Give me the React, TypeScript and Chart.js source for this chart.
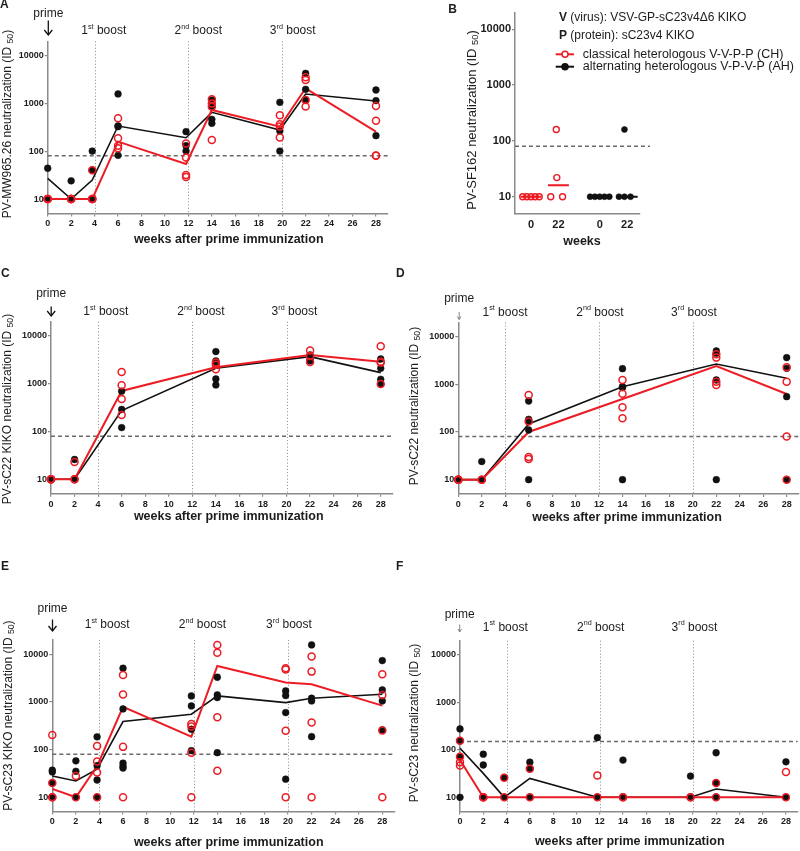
import React, { useEffect, useRef } from "react";
import { Chart, registerables } from "chart.js";

Chart.register(...registerables);

const FONT = '"Liberation Sans", Arial, Helvetica, sans-serif';
const RED = "#ec1c24";
const BLACK = "#111111";
const AXIS = "#8a8a8a";
const TEXT = "#1c1c1c";

// ---------------- shared scales ----------------
const weekTicks = [0, 2, 4, 6, 8, 10, 12, 14, 16, 18, 20, 22, 24, 26, 28];
const titerTicks = [10, 100, 1000, 10000];
const boostWeeks = [4, 12, 20];
const weeksFull = [0, 2, 3.8, 6, 11.8, 14, 19.8, 22, 28];
const weeksSparse = [0, 2, 6, 14, 22, 28];

// ---------------- Panel A: PV-MW965.26 ----------------
const A_CH = [
  [10, 10, 10, 10],
  [10, 10, 10, 10],
  [40, 10, 10, 10],
  [489, 186, 131, 115],
  [146, 74, 32, 29],
  [1220, 1000, 850, 172],
  [565, 366, 330, 195],
  [3520, 3090, 1180, 860],
  [885, 436, 81, 80],
];
const A_AH = [
  [44, 10, 10, 10],
  [24, 10, 10],
  [101, 40, 10],
  [1580, 340, 327, 82],
  [257, 131, 101],
  [1175, 885, 465, 384],
  [1057, 265, 101],
  [4265, 1977, 1177],
  [1914, 1147, 212],
];
const A_CH_GMT = [10, 10, 10, 159, 54, 730, 327, 2075, 257];
const A_AH_GMT = [27, 10, 25, 337, 192, 652, 278, 1578, 1127];

// ---------------- Panel B: PV-SF162 ----------------
const B_groupPos = [1, 2, 3.5, 4.5];
const B_groupLabels = ["0", "22", "0", "22"];
const B_CH_week0 = [10, 10, 10, 10, 10];
const B_CH_week22 = [10, 22, 160, 10];
const B_AH_week0 = [10, 10, 10, 10, 10];
const B_AH_week22 = [10, 160, 10, 10];
const B_CH_median = [10, 16];
const B_AH_median = [10, 10];
const B_jitterCH0 = [-0.3, -0.15, 0, 0.15, 0.3];
const B_jitterCH22 = [-0.28, -0.06, -0.08, 0.15];
const B_jitterAH0 = [-0.35, -0.175, 0, 0.175, 0.35];
const B_jitterAH22 = [-0.3, -0.1, -0.1, 0.12];

// ---------------- Panel C: PV-sC22 KIKO ----------------
const C_CH = [
  [10, 10, 10, 10],
  [23, 10, 10],
  [1770, 930, 480, 222],
  [2770, 2500, 2010],
  [4940, 3800, 2860],
  [6090, 2900, 2770, 990],
];
const C_AH = [
  [10, 10, 10],
  [26, 10],
  [700, 290, 121],
  [4710, 3000, 2800, 1260, 944],
  [4000, 3250, 3000],
  [3300, 2108, 1240, 990],
];
const C_CH_GMT = [10, 10, 707, 2213, 4010, 2904];
const C_AH_GMT = [10, 10, 274, 2108, 3700, 1710];

// ---------------- Panel D: PV-sC22 ----------------
const D_CH = [
  [10, 10, 10, 10],
  [10, 10],
  [598, 165, 30, 27],
  [1233, 637, 329, 194],
  [4260, 3631, 1138, 968],
  [2275, 1138, 80, 10],
];
const D_AH = [
  [10, 10],
  [24, 10],
  [447, 184, 170, 110, 10],
  [2133, 893, 850, 10],
  [5000, 4500, 1233, 10],
  [3631, 2168, 551, 10],
];
const D_CH_GMT = [10, 10, 100, 492, 2427, 627];
const D_AH_GMT = [10, 10, 147, 893, 2672, 1336];

// ---------------- Panel E: PV-sC23 KIKO ----------------
const E_CH = [
  [203, 20, 10, 10],
  [28, 10],
  [119, 56, 33, 10],
  [3683, 1425, 114, 10],
  [345, 304, 86, 10],
  [15700, 10800, 477, 36],
  [5080, 4800, 247, 10],
  [8930, 4320, 368, 10],
  [3800, 1403, 250, 10],
];
const E_AH = [
  [37, 34, 20, 10],
  [58, 35, 10],
  [185, 46, 23, 10],
  [5080, 713, 52, 45, 41],
  [1336, 824, 267, 95],
  [3290, 1403, 1233, 86],
  [1702, 1359, 597, 24],
  [15700, 1194, 1050, 187],
  [7360, 1786, 1050, 259],
];
const E_CH_GMT = [15, 10, 45, 785, 187, 5690, 2546, 2350, 837];
const E_AH_GMT = [28, 22, 39, 387, 551, 1336, 968, 1194, 1449];

// ---------------- Panel F: PV-sC23 ----------------
const F_CH = [
  [155, 72, 55, 47],
  [10, 10, 10],
  [26, 10],
  [40, 10],
  [29, 10],
  [10, 10],
  [10, 10],
  [20, 10],
  [34, 10],
];
const F_AH = [
  [276, 155, 72, 10],
  [81, 48, 10],
  [26, 10],
  [55, 40, 10],
  [181, 10],
  [61, 10],
  [28, 10],
  [87, 20, 10],
  [56, 10],
];
const F_CH_GMT = [61, 10, 10, 10, 10, 10, 10, 10, 10];
const F_AH_GMT = [108, 32, 10, 25, 10, 10, 10, 15, 10];

// ---------------- helpers ----------------
type Box = { x: number; y: number; w: number; h: number };
type Area = { l: number; t: number; r: number; b: number };

interface PanelCfg {
  id: string;
  box: Box;
  area: Area;
  xMin: number;
  xMax: number;
  xTicks: number[];
  xLabels?: string[];
  xTickMarks: boolean;
  xLabelPad: number;
  tickSize: number;
  datasets: any[];
  cutoff: number;
  cutoffExt: number;
  vlines: number[];
  draw: (ctx: CanvasRenderingContext2D) => void;
}

const pointsOf = (weeks: number[], vals: number[][]) =>
  weeks.flatMap((w, i) => vals[i].map((v) => ({ x: w, y: v })));
const lineOf = (weeks: number[], vals: number[]) => weeks.map((w, i) => ({ x: w, y: vals[i] }));

function timeCourse(weeks: number[], ch: number[][], ah: number[][], chM: number[], ahM: number[]) {
  return [
    {
      label: "CH",
      data: pointsOf(weeks, ch),
      showLine: false,
      pointRadius: 3.5,
      pointBorderWidth: 1.5,
      pointBorderColor: RED,
      pointBackgroundColor: "rgba(255,255,255,0)",
      order: 0,
      clip: false,
    },
    {
      label: "AH",
      data: pointsOf(weeks, ah),
      showLine: false,
      pointRadius: 3.4,
      pointBorderWidth: 0.5,
      pointBorderColor: BLACK,
      pointBackgroundColor: BLACK,
      order: 1,
      clip: false,
    },
    {
      label: "CH mean",
      data: lineOf(weeks, chM),
      borderColor: RED,
      borderWidth: 2,
      pointRadius: 0,
      tension: 0,
      fill: false,
      order: 2,
      clip: false,
    },
    {
      label: "AH mean",
      data: lineOf(weeks, ahM),
      borderColor: BLACK,
      borderWidth: 1.6,
      pointRadius: 0,
      tension: 0,
      fill: false,
      order: 3,
      clip: false,
    },
  ];
}

function dotGroup(vals: number[], center: number, jitter: number[]) {
  return vals.map((v, i) => ({ x: center + jitter[i], y: v }));
}
function medianBars(centers: number[], meds: number[]) {
  const out: any[] = [];
  centers.forEach((c, i) => {
    if (i > 0) out.push({ x: c - 0.7, y: null });
    out.push({ x: c - 0.38, y: meds[i] });
    out.push({ x: c + 0.38, y: meds[i] });
  });
  return out;
}

const setFont = (ctx: CanvasRenderingContext2D, size: number, bold = false) => {
  ctx.font = `${bold ? "bold " : ""}${size}px ${FONT}`;
};

function text(
  ctx: CanvasRenderingContext2D,
  s: string,
  x: number,
  y: number,
  size: number,
  bold = false,
  align: CanvasTextAlign = "center"
) {
  setFont(ctx, size, bold);
  ctx.fillStyle = TEXT;
  ctx.textAlign = align;
  ctx.textBaseline = "middle";
  ctx.fillText(s, x, y);
}

function arrow(ctx: CanvasRenderingContext2D, x: number, y1: number, y2: number, thin: boolean) {
  ctx.save();
  ctx.strokeStyle = thin ? "#777" : "#111";
  ctx.lineWidth = thin ? 0.9 : 1.3;
  ctx.beginPath();
  ctx.moveTo(x, y1);
  ctx.lineTo(x, y2);
  ctx.stroke();
  const hw = thin ? 1.8 : 4;
  const hh = thin ? 3 : 5;
  ctx.beginPath();
  ctx.moveTo(x - hw, y2 - hh);
  ctx.lineTo(x, y2);
  ctx.lineTo(x + hw, y2 - hh);
  ctx.stroke();
  ctx.restore();
}

function boost(ctx: CanvasRenderingContext2D, cx: number, cy: number, num: string, sup: string, size = 12) {
  ctx.fillStyle = TEXT;
  ctx.textAlign = "left";
  ctx.textBaseline = "middle";
  setFont(ctx, size);
  const w1 = ctx.measureText(num).width;
  const w3 = ctx.measureText(" boost").width;
  setFont(ctx, size * 0.6);
  const w2 = ctx.measureText(sup).width;
  let x = cx - (w1 + w2 + w3) / 2;
  setFont(ctx, size);
  ctx.fillText(num, x, cy);
  x += w1;
  setFont(ctx, size * 0.6);
  ctx.fillText(sup, x, cy - size * 0.33);
  x += w2;
  setFont(ctx, size);
  ctx.fillText(" boost", x, cy);
}

function boosts(ctx: CanvasRenderingContext2D, y: number, xs: number[]) {
  boost(ctx, xs[0], y, "1", "st");
  boost(ctx, xs[1], y, "2", "nd");
  boost(ctx, xs[2], y, "3", "rd");
}

function yTitle(ctx: CanvasRenderingContext2D, cx: number, cy: number, main: string, size = 12) {
  ctx.save();
  ctx.translate(cx, cy);
  ctx.rotate(-Math.PI / 2);
  ctx.fillStyle = TEXT;
  ctx.textAlign = "left";
  ctx.textBaseline = "middle";
  const head = `${main} (ID `;
  setFont(ctx, size);
  const w1 = ctx.measureText(head).width;
  const w3 = ctx.measureText(")").width;
  setFont(ctx, size * 0.72);
  const w2 = ctx.measureText("50").width;
  let x = -(w1 + w2 + w3) / 2;
  setFont(ctx, size);
  ctx.fillText(head, x, 0);
  x += w1;
  setFont(ctx, size * 0.72);
  ctx.fillText("50", x, size * 0.3);
  x += w2;
  setFont(ctx, size);
  ctx.fillText(")", x, 0);
  ctx.restore();
}

function prime(ctx: CanvasRenderingContext2D, x: number, ty: number, y1: number, y2: number, thin: boolean) {
  text(ctx, "prime", x, ty, 12);
  arrow(ctx, x, y1, y2, thin);
}

const X_TITLE = "weeks after prime immunization";

// ---------------- panel configurations ----------------
const panels: PanelCfg[] = [
  {
    id: "A",
    box: { x: 0, y: 0, w: 400, h: 262 },
    area: { l: 47.7, t: 41.3, r: 387.7, b: 213.4 },
    xMin: 0,
    xMax: 29,
    xTicks: weekTicks,
    xTickMarks: true,
    xLabelPad: 2,
    tickSize: 9,
    datasets: timeCourse(weeksFull, A_CH, A_AH, A_CH_GMT, A_AH_GMT),
    cutoff: 80,
    cutoffExt: 0,
    vlines: boostWeeks,
    draw: (ctx) => {
      text(ctx, "A", 0, 4.5, 12, true, "left");
      prime(ctx, 48.3, 13.3, 20.5, 35, false);
      boosts(ctx, 30.7, [103.8, 198.3, 292.7]);
      yTitle(ctx, 7.5, 124, "PV-MW965.26 neutralization");
      text(ctx, X_TITLE, 228.7, 239.5, 12.5, true);
    },
  },
  {
    id: "B",
    box: { x: 390, y: 0, w: 410, h: 262 },
    area: { l: 515, t: 12.5, r: 640, b: 213.5 },
    xMin: 0.42,
    xMax: 4.965,
    xTicks: B_groupPos,
    xLabels: B_groupLabels,
    xTickMarks: false,
    xLabelPad: 5,
    tickSize: 11,
    datasets: [
      {
        label: "CH",
        data: [
          ...dotGroup(B_CH_week0, B_groupPos[0], B_jitterCH0),
          ...dotGroup(B_CH_week22, B_groupPos[1], B_jitterCH22),
        ],
        showLine: false,
        pointRadius: 3,
        pointBorderWidth: 1.4,
        pointBorderColor: RED,
        pointBackgroundColor: "rgba(255,255,255,0)",
        order: 0,
        clip: false,
      },
      {
        label: "AH",
        data: [
          ...dotGroup(B_AH_week0, B_groupPos[2], B_jitterAH0),
          ...dotGroup(B_AH_week22, B_groupPos[3], B_jitterAH22),
        ],
        showLine: false,
        pointRadius: 3,
        pointBorderWidth: 0.5,
        pointBorderColor: BLACK,
        pointBackgroundColor: BLACK,
        order: 1,
        clip: false,
      },
      {
        label: "CH median",
        data: medianBars(B_groupPos.slice(0, 2), B_CH_median),
        borderColor: RED,
        borderWidth: 2,
        pointRadius: 0,
        spanGaps: false,
        order: 2,
        clip: false,
      },
      {
        label: "AH median",
        data: medianBars(B_groupPos.slice(2, 4), B_AH_median),
        borderColor: BLACK,
        borderWidth: 2,
        pointRadius: 0,
        spanGaps: false,
        order: 3,
        clip: false,
      },
    ],
    cutoff: 80,
    cutoffExt: 10,
    vlines: [],
    draw: (ctx) => {
      text(ctx, "B", 448.3, 9.7, 12, true, "left");
      yTitle(ctx, 472, 120, "PV-SF162 neutralization", 13);
      text(ctx, "weeks", 582, 241.7, 12.5, true);
      const hdr = (bold: string, rest: string, y: number) => {
        setFont(ctx, 12, true);
        const wb = ctx.measureText(bold).width;
        text(ctx, bold, 559, y, 12, true, "left");
        text(ctx, rest, 559 + wb, y, 12, false, "left");
      };
      hdr("V", " (virus): VSV-GP-sC23v4\u03946 KIKO", 17.3);
      hdr("P", " (protein): sC23v4 KIKO", 35.7);
      const row = (y: number, color: string, filled: boolean, label: string) => {
        ctx.save();
        ctx.strokeStyle = color;
        ctx.lineWidth = 2;
        ctx.beginPath();
        ctx.moveTo(555.7, y);
        ctx.lineTo(574, y);
        ctx.stroke();
        ctx.beginPath();
        ctx.arc(565, y, 3, 0, Math.PI * 2);
        ctx.fillStyle = filled ? color : "#ffffff";
        ctx.fill();
        ctx.lineWidth = 1.5;
        ctx.stroke();
        ctx.restore();
        text(ctx, label, 582.7, y, 12.5, false, "left");
      };
      row(54.3, RED, false, "classical heterologous V-V-P-P (CH)");
      row(66.7, BLACK, true, "alternating heterologous V-P-V-P (AH)");
    },
  },
  {
    id: "C",
    box: { x: 0, y: 262, w: 400, h: 293 },
    area: { l: 51, t: 321.6, r: 392.5, b: 493.7 },
    xMin: 0,
    xMax: 29,
    xTicks: weekTicks,
    xTickMarks: true,
    xLabelPad: 2,
    tickSize: 9,
    datasets: timeCourse(weeksSparse, C_CH, C_AH, C_CH_GMT, C_AH_GMT),
    cutoff: 80,
    cutoffExt: 0,
    vlines: boostWeeks,
    draw: (ctx) => {
      text(ctx, "C", 1, 274, 12, true, "left");
      prime(ctx, 51.2, 294, 306.5, 316, false);
      boosts(ctx, 311.7, [105.8, 201, 294.5]);
      yTitle(ctx, 7.5, 409, "PV-sC22 KIKO neutralization");
      text(ctx, X_TITLE, 228.7, 516.7, 12.5, true);
    },
  },
  {
    id: "D",
    box: { x: 390, y: 262, w: 410, h: 293 },
    area: { l: 458.3, t: 322.3, r: 798.4, b: 494 },
    xMin: 0,
    xMax: 29,
    xTicks: weekTicks,
    xTickMarks: true,
    xLabelPad: 2,
    tickSize: 9,
    datasets: timeCourse(weeksSparse, D_CH, D_AH, D_CH_GMT, D_AH_GMT),
    cutoff: 80,
    cutoffExt: 0,
    vlines: boostWeeks,
    draw: (ctx) => {
      text(ctx, "D", 396, 274, 12, true, "left");
      prime(ctx, 459.2, 298.3, 312, 319.5, true);
      boosts(ctx, 312.3, [505, 600, 694]);
      yTitle(ctx, 414.5, 406, "PV-sC22 neutralization");
      text(ctx, X_TITLE, 627, 517.3, 12.5, true);
    },
  },
  {
    id: "E",
    box: { x: 0, y: 555, w: 400, h: 296 },
    area: { l: 52.3, t: 639.9, r: 394.1, b: 811.6 },
    xMin: 0,
    xMax: 29,
    xTicks: weekTicks,
    xTickMarks: true,
    xLabelPad: 2,
    tickSize: 9,
    datasets: timeCourse(weeksFull, E_CH, E_AH, E_CH_GMT, E_AH_GMT),
    cutoff: 80,
    cutoffExt: 0,
    vlines: boostWeeks,
    draw: (ctx) => {
      text(ctx, "E", 1, 566.7, 12, true, "left");
      prime(ctx, 52.5, 609, 619.5, 631, false);
      boosts(ctx, 625, [107.2, 202.5, 289]);
      yTitle(ctx, 8.5, 715.7, "PV-sC23 KIKO neutralization");
      text(ctx, X_TITLE, 228.7, 842.7, 12.5, true);
    },
  },
  {
    id: "F",
    box: { x: 390, y: 555, w: 410, h: 296 },
    area: { l: 460, t: 640.7, r: 797.6, b: 811.6 },
    xMin: 0,
    xMax: 29,
    xTicks: weekTicks,
    xTickMarks: true,
    xLabelPad: 2,
    tickSize: 9,
    datasets: timeCourse(weeksFull, F_CH, F_AH, F_CH_GMT, F_AH_GMT),
    cutoff: 150,
    cutoffExt: 0,
    vlines: boostWeeks,
    draw: (ctx) => {
      text(ctx, "F", 396, 566.7, 12, true, "left");
      prime(ctx, 459.7, 615, 624.5, 632, true);
      boosts(ctx, 627.3, [505.3, 600.7, 694.5]);
      yTitle(ctx, 414.5, 723, "PV-sC23 neutralization");
      text(ctx, X_TITLE, 629.7, 842, 12.5, true);
    },
  },
];

const Y_W = 40;
const X_H = 16;

function buildConfig(cfg: PanelCfg): any {
  const { box, area } = cfg;
  const decor = {
    id: "decor" + cfg.id,
    beforeDatasetsDraw(chart: any) {
      const ctx: CanvasRenderingContext2D = chart.ctx;
      const ca = chart.chartArea;
      const xs = chart.scales.x;
      const ys = chart.scales.y;
      ctx.save();
      ctx.strokeStyle = "#9a9a9a";
      ctx.lineWidth = 1;
      ctx.setLineDash([1.2, 2]);
      cfg.vlines.forEach((w) => {
        const px = Math.round(xs.getPixelForValue(w)) + 0.5;
        ctx.beginPath();
        ctx.moveTo(px, ca.top);
        ctx.lineTo(px, ca.bottom);
        ctx.stroke();
      });
      ctx.strokeStyle = "#6a6a6a";
      ctx.lineWidth = 1.5;
      ctx.setLineDash([4, 3]);
      const py = ys.getPixelForValue(cfg.cutoff);
      ctx.beginPath();
      ctx.moveTo(ca.left, py);
      ctx.lineTo(ca.right + cfg.cutoffExt, py);
      ctx.stroke();
      ctx.restore();
    },
    afterDraw(chart: any) {
      const ctx: CanvasRenderingContext2D = chart.ctx;
      ctx.save();
      ctx.translate(-box.x, -box.y);
      cfg.draw(ctx);
      ctx.restore();
    },
  };

  return {
    type: "line",
    data: { datasets: cfg.datasets },
    plugins: [decor],
    options: {
      responsive: false,
      animation: false,
      events: [],
      layout: {
        autoPadding: false,
        padding: {
          left: area.l - box.x - Y_W,
          top: area.t - box.y,
          right: box.x + box.w - area.r,
          bottom: box.y + box.h - area.b - X_H,
        },
      },
      plugins: { legend: { display: false }, tooltip: { enabled: false } },
      scales: {
        x: {
          type: "linear",
          min: cfg.xMin,
          max: cfg.xMax,
          afterBuildTicks: (s: any) => {
            s.ticks = cfg.xTicks.map((v) => ({ value: v }));
          },
          afterFit: (s: any) => {
            s.height = X_H;
            s.paddingLeft = 0;
            s.paddingRight = 0;
          },
          ticks: {
            autoSkip: false,
            maxRotation: 0,
            minRotation: 0,
            padding: cfg.xLabelPad,
            color: TEXT,
            font: { family: FONT, size: cfg.tickSize, weight: "bold" },
            callback: (v: any, i: number) => (cfg.xLabels ? cfg.xLabels[i] : String(v)),
          },
          grid: {
            drawOnChartArea: false,
            drawTicks: cfg.xTickMarks,
            tickLength: 3,
            color: AXIS,
            lineWidth: 1.2,
          },
          border: { display: true, color: AXIS, width: 1.5 },
        },
        y: {
          type: "logarithmic",
          min: 5,
          max: 20000,
          afterBuildTicks: (s: any) => {
            s.ticks = titerTicks.map((v) => ({ value: v }));
          },
          afterFit: (s: any) => {
            s.width = Y_W;
            s.paddingTop = 0;
            s.paddingBottom = 0;
          },
          ticks: {
            autoSkip: false,
            padding: 1,
            color: TEXT,
            font: { family: FONT, size: cfg.tickSize, weight: "bold" },
            callback: (v: any) => String(v),
          },
          grid: {
            drawOnChartArea: false,
            drawTicks: true,
            tickLength: 3,
            color: AXIS,
            lineWidth: 1.2,
          },
          border: { display: true, color: AXIS, width: 1.5 },
        },
      },
    },
  };
}

function Panel({ cfg }: { cfg: PanelCfg }) {
  const ref = useRef<HTMLCanvasElement>(null);
  useEffect(() => {
    if (!ref.current) return;
    const chart = new Chart(ref.current, buildConfig(cfg));
    return () => chart.destroy();
  }, [cfg]);
  return (
    <canvas
      ref={ref}
      width={cfg.box.w}
      height={cfg.box.h}
      style={{
        position: "absolute",
        left: cfg.box.x,
        top: cfg.box.y,
        width: cfg.box.w,
        height: cfg.box.h,
      }}
    />
  );
}

export default function App() {
  return (
    <div
      style={{
        position: "absolute",
        left: 0,
        top: 0,
        width: 800,
        height: 851,
        background: "#ffffff",
        overflow: "hidden",
      }}
    >
      {panels.map((p) => (
        <Panel key={p.id} cfg={p} />
      ))}
    </div>
  );
}
